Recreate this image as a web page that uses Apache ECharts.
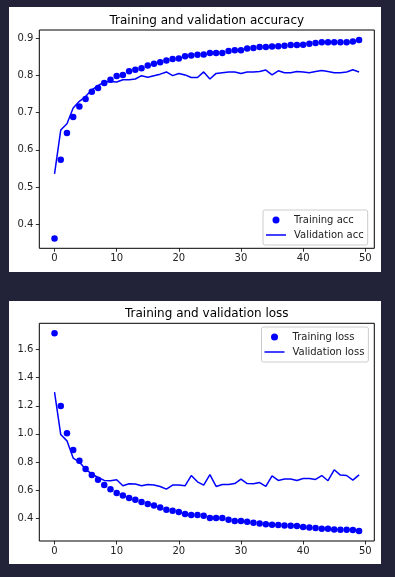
<!DOCTYPE html>
<html>
<head>
<meta charset="utf-8">
<script src="https://cdn.jsdelivr.net/npm/echarts@6/dist/echarts.min.js"></script>
<style>
html,body{margin:0;padding:0;background:#222338;}
#c{width:395px;height:577px;}
</style>
</head>
<body>
<div id="c"></div>
<script>
const epochs = [0,1,2,3,4,5,6,7,8,9,10,11,12,13,14,15,16,17,18,19,20,21,22,23,24,25,26,27,28,29,30,31,32,33,34,35,36,37,38,39,40,41,42,43,44,45,46,47,48,49];
const trainAcc = [0.362,0.573,0.645,0.688,0.716,0.736,0.756,0.766,0.779,0.788,0.798,0.801,0.811,0.815,0.819,0.826,0.831,0.835,0.840,0.844,0.845,0.851,0.853,0.855,0.856,0.860,0.860,0.860,0.865,0.867,0.867,0.872,0.873,0.876,0.876,0.877,0.878,0.879,0.881,0.881,0.882,0.885,0.887,0.889,0.889,0.889,0.889,0.889,0.891,0.895];
const valAcc = [0.535,0.653,0.670,0.712,0.730,0.743,0.761,0.772,0.782,0.783,0.782,0.788,0.788,0.790,0.799,0.795,0.799,0.803,0.809,0.799,0.805,0.801,0.794,0.794,0.809,0.790,0.805,0.807,0.809,0.809,0.805,0.809,0.809,0.810,0.814,0.801,0.812,0.807,0.807,0.810,0.809,0.807,0.810,0.813,0.810,0.807,0.807,0.809,0.815,0.809];
const trainLoss = [1.717,1.199,1.005,0.884,0.808,0.749,0.706,0.673,0.635,0.606,0.578,0.561,0.542,0.530,0.514,0.500,0.489,0.476,0.459,0.452,0.443,0.428,0.421,0.421,0.416,0.400,0.400,0.400,0.388,0.379,0.379,0.374,0.367,0.362,0.355,0.352,0.350,0.347,0.345,0.343,0.336,0.333,0.329,0.324,0.324,0.319,0.317,0.317,0.315,0.307];
const valLoss = [1.297,0.995,0.950,0.827,0.799,0.747,0.715,0.689,0.668,0.666,0.673,0.630,0.644,0.642,0.630,0.639,0.636,0.625,0.606,0.635,0.635,0.630,0.703,0.658,0.635,0.710,0.625,0.639,0.639,0.646,0.678,0.646,0.644,0.653,0.625,0.701,0.668,0.678,0.678,0.668,0.682,0.682,0.675,0.703,0.666,0.744,0.706,0.703,0.670,0.708];
const xTicks = [0,10,20,30,40,50];
const accTicks = [0.4,0.5,0.6,0.7,0.8,0.9];
const lossTicks = [0.4,0.6,0.8,1.0,1.2,1.4,1.6];

const FONT = 'DejaVu Sans';
const BLUE = '#0000ff';
const LINE_ICON = 'path://M0,0 L20,0 L20,1.5 L0,1.5 Z';
const pairs = (ys) => epochs.map((e, i) => [e, ys[i]]);

function xAxis(gi) {
  return {
    type: 'value', gridIndex: gi, min: -2.45, max: 51.45, position: 'bottom',
    axisLine: { show: false, onZero: false },
    axisTick: { show: true, customValues: xTicks, length: 3.5, lineStyle: { color: '#000', width: 0.8 } },
    axisLabel: { customValues: xTicks, margin: 5, fontFamily: FONT, fontSize: 10, color: '#222', formatter: v => String(v) },
    splitLine: { show: false }
  };
}
function yAxis(gi, mn, mx, ticks) {
  return {
    type: 'value', gridIndex: gi, min: mn, max: mx, position: 'left',
    axisLine: { show: false, onZero: false },
    axisTick: { show: true, customValues: ticks, length: 3.5, lineStyle: { color: '#000', width: 0.8 } },
    axisLabel: { customValues: ticks, margin: 6, fontFamily: FONT, fontSize: 10, color: '#222', formatter: v => v.toFixed(1) },
    splitLine: { show: false }
  };
}
function legend(names, left, top) {
  return {
    data: [{ name: names[0], icon: 'circle' }, { name: names[1], icon: LINE_ICON }],
    orient: 'vertical', left: left, top: top,
    itemWidth: 20, itemHeight: 7, itemGap: 3,
    padding: [4, 4, 4, 3],
    backgroundColor: 'rgba(255,255,255,0.8)',
    borderColor: '#cccccc', borderWidth: 1, borderRadius: 2,
    textStyle: { fontFamily: FONT, fontSize: 10, color: '#222', lineHeight: 12, padding: [0, 0, 0, 3] }
  };
}

const chart = echarts.init(document.getElementById('c'), null, { renderer: 'canvas' });
chart.setOption({
  backgroundColor: '#222338',
  animation: false,
  graphic: [
    { type: 'rect', shape: { x: 9, y: 7, width: 372, height: 265 }, style: { fill: '#ffffff' }, z: -10, silent: true },
    { type: 'rect', shape: { x: 9, y: 301, width: 372, height: 263 }, style: { fill: '#ffffff' }, z: -10, silent: true }
  ],
  title: [
    { text: 'Training and validation accuracy', left: 206.8, textAlign: 'center', top: 14.5, padding: 0,
      textStyle: { fontFamily: FONT, fontSize: 12, fontWeight: 'normal', color: '#000' } },
    { text: 'Training and validation loss', left: 206.8, textAlign: 'center', top: 307.5, padding: 0,
      textStyle: { fontFamily: FONT, fontSize: 12, fontWeight: 'normal', color: '#000' } }
  ],
  legend: [
    legend(['Training acc', 'Validation acc'], 263, 210),
    legend(['Training loss', 'Validation loss'], 261.5, 327)
  ],
  grid: [
    { left: 39.3, top: 30, width: 335, height: 218.3, show: true, borderColor: '#000', borderWidth: 1, backgroundColor: 'transparent' },
    { left: 39.3, top: 323.3, width: 335, height: 217.7, show: true, borderColor: '#000', borderWidth: 1, backgroundColor: 'transparent' }
  ],
  xAxis: [xAxis(0), xAxis(1)],
  yAxis: [yAxis(0, 0.3354, 0.9216, accTicks), yAxis(1, 0.2365, 1.7875, lossTicks)],
  series: [
    { name: 'Training acc', type: 'scatter', xAxisIndex: 0, yAxisIndex: 0, data: pairs(trainAcc),
      symbol: 'circle', symbolSize: 6.5, itemStyle: { color: BLUE, opacity: 1 } },
    { name: 'Validation acc', type: 'line', xAxisIndex: 0, yAxisIndex: 0, data: pairs(valAcc),
      symbol: 'none', lineStyle: { color: BLUE, width: 1.5 }, itemStyle: { color: BLUE } },
    { name: 'Training loss', type: 'scatter', xAxisIndex: 1, yAxisIndex: 1, data: pairs(trainLoss),
      symbol: 'circle', symbolSize: 6.5, itemStyle: { color: BLUE, opacity: 1 } },
    { name: 'Validation loss', type: 'line', xAxisIndex: 1, yAxisIndex: 1, data: pairs(valLoss),
      symbol: 'none', lineStyle: { color: BLUE, width: 1.5 }, itemStyle: { color: BLUE } }
  ]
});
</script>
</body>
</html>
